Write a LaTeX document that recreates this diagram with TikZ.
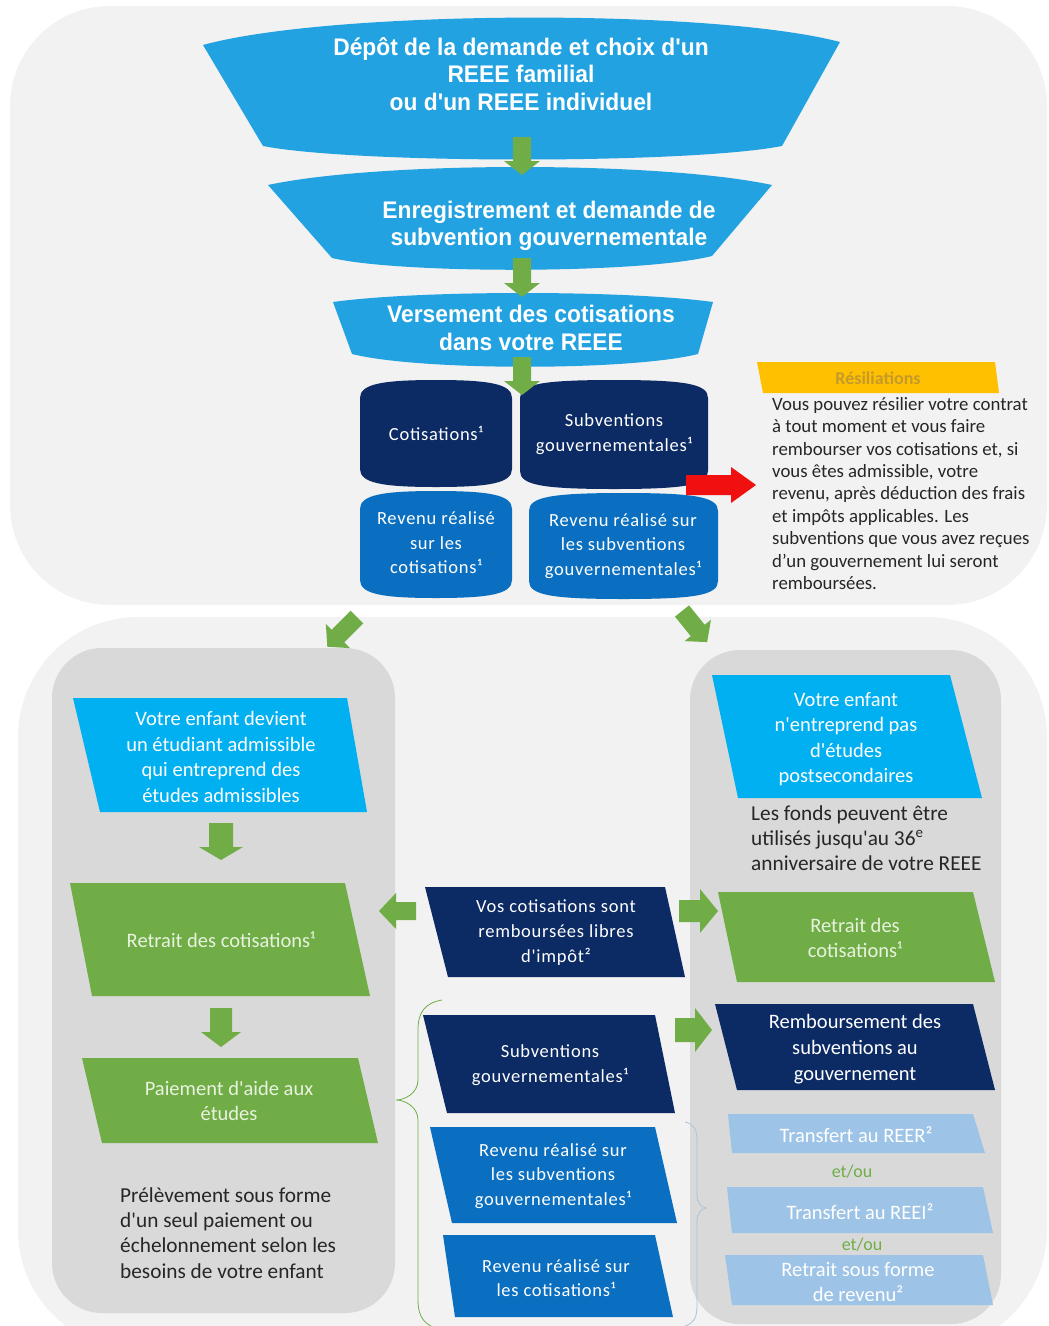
\documentclass[tikz,border=0pt]{standalone}
\usepackage{fontspec}
\setmainfont{Carlito}[Ligatures=TeXOff]
\newfontfamily\funnelfont[FakeStretch=0.95,Ligatures=TeXOff]{Liberation Sans}
\newfontfamily\spacedfont[LetterSpace=4,Ligatures=TeXOff]{Carlito}
\definecolor{panel}{HTML}{F2F2F2}
\definecolor{innergray}{HTML}{D9D9D9}
\definecolor{funnelblue}{HTML}{22A2E0}
\definecolor{navy}{HTML}{0C2A63}
\definecolor{medblue}{HTML}{0A6FC0}
\definecolor{cyanbox}{HTML}{00B0F0}
\definecolor{grn}{HTML}{70AD47}
\definecolor{ltblue}{HTML}{9DC3E6}
\definecolor{bracegray}{HTML}{A9C4DE}
\definecolor{yel}{HTML}{FFC000}
\definecolor{gold}{HTML}{C49A2C}
\definecolor{txt}{HTML}{262626}
\definecolor{paletext}{HTML}{E8F2DE}
\definecolor{redarrow}{HTML}{F01010}
\newcommand{\blockarrow}[7]{\fill[#7, shift={#1}, rotate=#2] (0,-#4) -- ({#3-#6},-#4) -- ({#3-#6},-#5) -- (#3,0) -- ({#3-#6},#5) -- ({#3-#6},#4) -- (0,#4) -- cycle;}
\newcommand{\tabbox}[5]{\fill[#5] (#1,{#3+16}) .. controls (#1,{#3+2}) and ({#1+22},{#3-2}) .. ({(#1+#2)/2},{#3-2}) .. controls ({#2-22},{#3-2}) and (#2,{#3+2}) .. (#2,{#3+16}) -- (#2,{#4-16}) .. controls (#2,{#4-2}) and ({#2-22},{#4+2}) .. ({(#1+#2)/2},{#4+2}) .. controls ({#1+22},{#4+2}) and (#1,{#4-2}) .. (#1,{#4-16}) -- cycle;}
\tikzset{
  ftext/.style={text=white, align=center, inner sep=0, font=\funnelfont\bfseries\fontsize{24}{27.5}\selectfont},
  btext/.style={text=white, align=center, inner sep=0, font=\spacedfont\fontsize{18.5}{24.5}\selectfont},
  ctext/.style={text=white, align=center, inner sep=0, font=\fontsize{20.5}{25.5}\selectfont},
  gtext/.style={ctext, text=paletext},
  plaintext/.style={text=txt, align=left, inner sep=0, anchor=north west},
  etou/.style={text=grn, inner sep=0, font=\fontsize{18}{20}\selectfont},
}
\begin{document}
\begin{tikzpicture}[x=1pt,y=-1pt]
\useasboundingbox (0,0) rectangle (1049,1326);
% background panels
\fill[panel, rounded corners=100] (10,6) rectangle (1047,605);
\fill[panel, rounded corners=120] (18,617) rectangle (1047,1350);
\fill[innergray, rounded corners=50] (52,648) rectangle (395,1313);
\fill[innergray, rounded corners=50] (690,650) rectangle (1001,1324);

% funnels
\fill[funnelblue] (203,45) .. controls (330,10) and (710,8) .. (840,42) -- (782,146) .. controls (690,164) and (355,164) .. (263,146) -- cycle;
\fill[funnelblue] (268,185) .. controls (380,161) and (660,161) .. (772,185) -- (712,256) .. controls (640,274) and (400,274) .. (332,258) -- cycle;
\fill[funnelblue] (333,302) .. controls (420,290) and (625,290) .. (713,302) -- (698,354) .. controls (630,371) and (420,371) .. (352,354) -- cycle;
\node[ftext] (f1) at (521,74) {Dépôt de la demande et choix d'un\\REEE familial\\ou d'un REEE individuel};
\node[ftext] (f2) at (549,226) {Enregistrement et demande de\\subvention gouvernementale};
\node[ftext] (f3) at (531,328) {Versement des cotisations\\dans votre REEE};

% account boxes
\tabbox{360}{512}{382}{485}{navy}
\tabbox{520}{708}{382}{487}{navy}
\tabbox{360}{512}{493}{596}{medblue}
\tabbox{529}{718}{495}{597}{medblue}
\node[btext] (cot) at (436,433) {Cotisations¹};
\node[btext] (sub) at (614,434) {Subventions\\gouvernementales¹};
\node[btext] (revc) at (436,543) {Revenu réalisé\\sur les\\cotisations¹};
\node[btext] (revs) at (623,546) {Revenu réalisé sur\\les subventions\\gouvernementales¹};

% funnel arrows
\blockarrow{(522,137)}{-90}{38}{9}{18}{14}{grn}
\blockarrow{(522,258)}{-90}{39}{9}{18}{14}{grn}
\blockarrow{(522,357)}{-90}{38}{9}{18}{14}{grn}

% resiliations
\blockarrow{(686,485)}{0}{70}{10}{18}{25}{redarrow}
\fill[yel] (757,362) -- (995,362) -- (999,393) -- (763,393) -- cycle;
\node[text=gold, inner sep=0, font=\bfseries\fontsize{18}{20}\selectfont] (res) at (878,378) {Résiliations};
\node[plaintext, font=\fontsize{18.8}{22.4}\selectfont] (resbody) at (772,397) {Vous pouvez résilier votre contrat\\à tout moment et vous faire\\rembourser vos cotisations et, si\\vous êtes admissible, votre\\revenu, après déduction des frais\\et impôts applicables. Les\\subventions que vous avez reçues\\d’un gouvernement lui seront\\remboursées.};

% diagonal arrows
\blockarrow{(357,617)}{-135}{42}{9}{17}{15}{grn}
\blockarrow{(682,611)}{-51}{40}{9}{17}{15}{grn}

% left panel
\fill[cyanbox] (73,698) -- (347,698) -- (367,812) -- (100,812) -- cycle;
\node[ctext] (etud) at (221,757) {Votre enfant devient\\un étudiant admissible\\qui entreprend des\\études admissibles};
\blockarrow{(221,823)}{-90}{37}{12}{22}{13}{grn}
\fill[grn] (70,883) -- (345,883) -- (370,996) -- (92,996) -- cycle;
\node[gtext] (retl) at (221,940) {Retrait des cotisations¹};
\blockarrow{(221,1008)}{-90}{39}{11}{20}{15}{grn}
\fill[grn] (82,1058) -- (358,1058) -- (378,1143) -- (102,1143) -- cycle;
\node[gtext] (paie) at (229,1101) {Paiement d'aide aux\\études};
\node[plaintext, font=\fontsize{21.3}{25.4}\selectfont] (prel) at (120,1187) {Prélèvement sous forme\\d'un seul paiement ou\\échelonnement selon les\\besoins de votre enfant};

% middle column
\blockarrow{(416,911)}{180}{37}{9}{18}{17}{grn}
\fill[navy] (425,887) -- (665,887) -- (685,977) -- (448,977) -- cycle;
\node[btext, font=\spacedfont\fontsize{18.5}{25}\selectfont] (vos) at (556,933) {Vos cotisations sont\\remboursées libres\\d'impôt²};
\blockarrow{(679,911)}{0}{39}{11}{22}{18}{grn}
\draw[grn, line width=0.8] (442,1000) .. controls (425,1003) and (418,1012) .. (418,1030) -- (418,1080) .. controls (418,1093) and (405,1100) .. (396,1100) .. controls (405,1100) and (418,1107) .. (418,1120) -- (418,1300) .. controls (418,1318) and (425,1326) .. (442,1330);
\fill[navy] (423,1015) -- (655,1015) -- (675,1113) -- (447,1113) -- cycle;
\node[btext] (subm) at (550,1065) {Subventions\\gouvernementales¹};
\fill[medblue] (430,1127) -- (655,1127) -- (677,1223) -- (452,1223) -- cycle;
\node[btext] (revsm) at (553,1176) {Revenu réalisé sur\\les subventions\\gouvernementales¹};
\fill[medblue] (443,1235) -- (655,1235) -- (673,1317) -- (455,1317) -- cycle;
\node[btext] (revcm) at (556,1278) {Revenu réalisé sur\\les cotisations¹};
\blockarrow{(675,1030)}{0}{37}{12}{22}{17}{grn}
\draw[bracegray, line width=0.8] (685,1122) .. controls (694,1124) and (697,1130) .. (697,1140) -- (697,1195) .. controls (697,1203) and (701,1207) .. (706,1208) .. controls (701,1209) and (697,1213) .. (697,1221) -- (697,1305) .. controls (697,1318) and (694,1323) .. (685,1326);

% right panel
\fill[cyanbox] (712,675) -- (950,675) -- (982,798) -- (738,798) -- cycle;
\node[ctext] (nopost) at (846,739) {Votre enfant\\n'entreprend pas\\d'études\\postsecondaires};
\node[plaintext, font=\fontsize{21.3}{25.2}\selectfont] (fonds) at (751,805) {Les fonds peuvent être\\utilisés jusqu'au 36\textsuperscript{e}\\anniversaire de votre REEE};
\fill[grn] (718,892) -- (973,892) -- (995,982) -- (737,982) -- cycle;
\node[gtext] (retr) at (855,938) {Retrait des\\cotisations¹};
\fill[navy] (715,1004) -- (973,1004) -- (995,1090) -- (737,1090) -- cycle;
\node[ctext, font=\fontsize{20.5}{26}\selectfont] (remb) at (855,1049) {Remboursement des\\subventions au\\gouvernement};
\fill[ltblue] (728,1114) -- (973,1114) -- (985,1153) -- (732,1153) -- cycle;
\node[ctext] (reer) at (856,1135) {Transfert au REER²};
\node[etou] (eo1) at (852,1172) {et/ou};
\fill[ltblue] (727,1187) -- (983,1187) -- (993,1233) -- (732,1233) -- cycle;
\node[ctext] (reei) at (860,1212) {Transfert au REEI²};
\node[etou] (eo2) at (862,1245) {et/ou};
\fill[ltblue] (725,1255) -- (983,1255) -- (993,1305) -- (732,1305) -- cycle;
\node[ctext] (rrev) at (858,1282) {Retrait sous forme\\de revenu²};
\end{tikzpicture}
\end{document}
